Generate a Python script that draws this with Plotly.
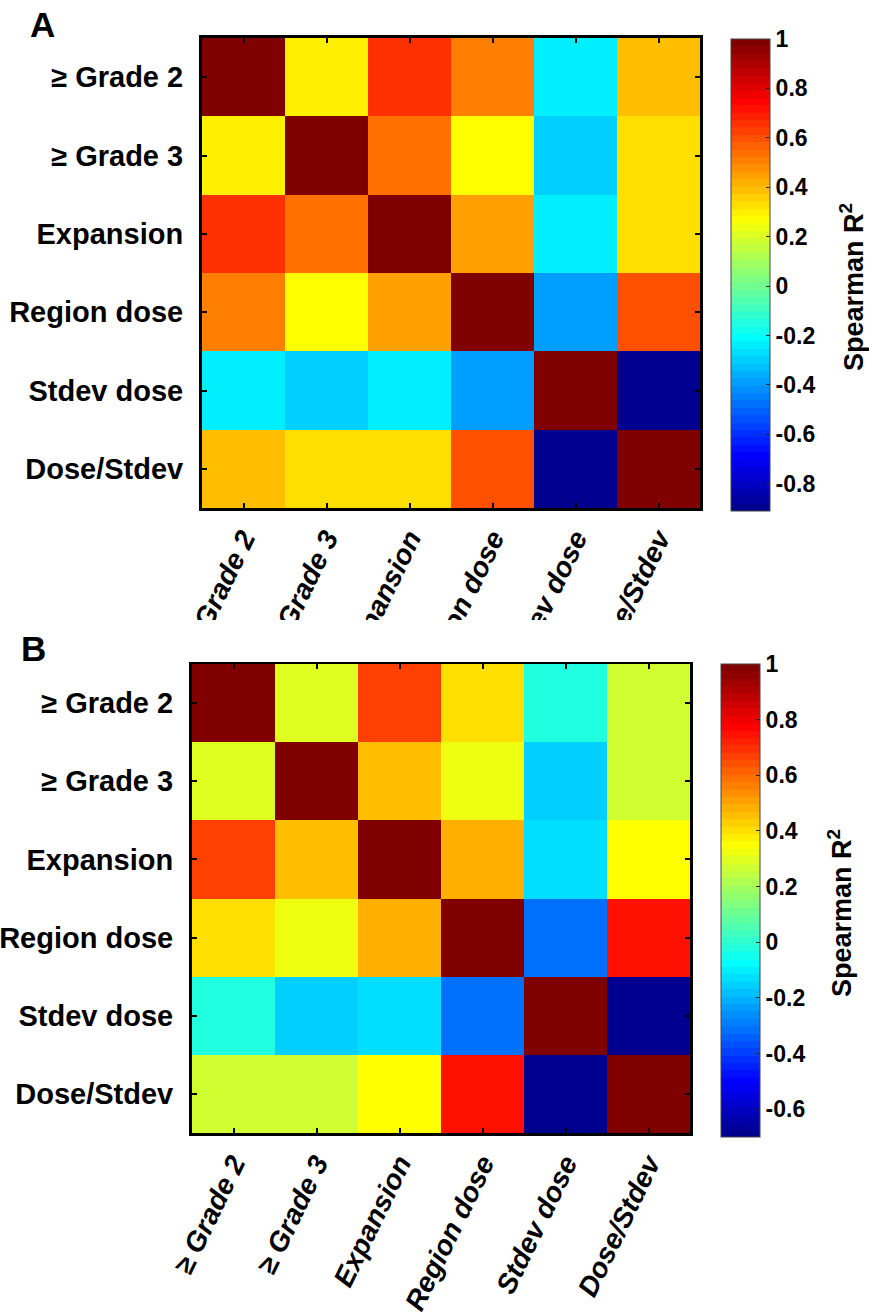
import numpy as np
import plotly.graph_objects as go

# Variables compared in both correlation matrices
labels = ["≥ Grade 2", "≥ Grade 3", "Expansion", "Region dose", "Stdev dose", "Dose/Stdev"]

# Panel A: Spearman correlation matrix
corr_a = [
    [1.00, 0.30, 0.66, 0.51, -0.24, 0.40],
    [0.30, 1.00, 0.54, 0.27, -0.30, 0.34],
    [0.66, 0.54, 1.00, 0.45, -0.24, 0.34],
    [0.51, 0.27, 0.45, 1.00, -0.39, 0.60],
    [-0.24, -0.30, -0.24, -0.39, 1.00, -0.91],
    [0.40, 0.34, 0.34, 0.60, -0.91, 1.00],
]

# Panel B: Spearman correlation matrix
corr_b = [
    [1.00, 0.30, 0.67, 0.40, -0.02, 0.27],
    [0.30, 1.00, 0.46, 0.32, -0.16, 0.27],
    [0.67, 0.46, 1.00, 0.48, -0.13, 0.35],
    [0.40, 0.32, 0.48, 1.00, -0.32, 0.75],
    [-0.02, -0.16, -0.13, -0.32, 1.00, -0.70],
    [0.27, 0.27, 0.35, 0.75, -0.70, 1.00],
]

cbar_ticks_a = [1, 0.8, 0.6, 0.4, 0.2, 0, -0.2, -0.4, -0.6, -0.8]
cbar_text_a = ["1", "0.8", "0.6", "0.4", "0.2", "0", "-0.2", "-0.4", "-0.6", "-0.8"]
cbar_ticks_b = [1, 0.8, 0.6, 0.4, 0.2, 0, -0.2, -0.4, -0.6]
cbar_text_b = ["1", "0.8", "0.6", "0.4", "0.2", "0", "-0.2", "-0.4", "-0.6"]

# 64-step "jet" colour map, drawn as discrete bands
def jet_scale(n=64):
    scale = []
    for i in range(1, n + 1):
        r = min(max(min(i - 24, 72 - i) / 16, 0), 1)
        g = min(max(min(i - 8, 56 - i) / 16, 0), 1)
        b = min(max(min(i + 8, 40 - i) / 16, 0), 1)
        col = f"rgb({round(r*255)},{round(g*255)},{round(b*255)})"
        scale.append([(i - 1) / n, col])
        scale.append([i / n, col])
    return scale

JET = jet_scale()
W, H = 869, 1314
FONT = "Liberation Sans, Arial, sans-serif"

def px_x(p):
    return p / W

def px_y(p):
    return 1 - p / H

fig = go.Figure()

panels = [
    # matrix, ticks, ticktext, plot box (l, t, r, b), colorbar box (l, t, r, b), axes suffix
    (corr_a, cbar_ticks_a, cbar_text_a, (202, 38, 700, 508), (731, 39, 770, 511), ""),
    (corr_b, cbar_ticks_b, cbar_text_b, (192, 664, 690, 1133), (721, 664, 760, 1137), "2"),
]

for z, ctv, ctt, box, cb, suf in panels:
    l, t, r, b = box
    zarr = np.array(z)
    fig.add_trace(go.Heatmap(
        z=z, x=list(range(6)), y=list(range(6)),
        xaxis="x" + suf, yaxis="y" + suf,
        colorscale=JET, zmin=float(zarr.min()), zmax=float(zarr.max()),
        xgap=0, ygap=0, hoverinfo="skip",
        colorbar=dict(
            x=px_x(cb[0]), xanchor="left", xpad=0, ypad=0,
            y=px_y((cb[1] + cb[3]) / 2), yanchor="middle",
            len=(cb[3] - cb[1]) / H, lenmode="fraction",
            thickness=cb[2] - cb[0], thicknessmode="pixels",
            outlinewidth=1, outlinecolor="#444",
            tickvals=ctv, ticktext=ctt,
            ticks="inside", ticklen=4, tickcolor="#222",
            tickfont=dict(family=FONT, size=23, color="black", weight="bold"),
        ),
    ))
    axis_common = dict(
        showline=True, linewidth=3, linecolor="black", mirror="ticks",
        ticks="inside", ticklen=5, tickwidth=2, tickcolor="black",
        showgrid=False, zeroline=False, tickvals=list(range(6)), ticktext=labels,
        automargin=False,
    )
    fig.update_layout(**{
        "xaxis" + suf: dict(
            axis_common, domain=[px_x(l), px_x(r)], range=[-0.5, 5.5],
            anchor="y" + suf, tickangle=-64,
            tickfont=dict(family=FONT, size=28, color="black", weight="bold", style="italic"),
        ),
        "yaxis" + suf: dict(
            axis_common, domain=[px_y(b), px_y(t)], range=[5.5, -0.5],
            anchor="x" + suf, ticklabelstandoff=10,
            tickfont=dict(family=FONT, size=29, color="black", weight="bold"),
        ),
    })

# Spearman colour-bar titles
for cx, cy in [(852, 287), (840, 913)]:
    fig.add_annotation(
        x=px_x(cx), y=px_y(cy), xref="paper", yref="paper",
        text="Spearman R<sup>2</sup>", textangle=-90, showarrow=False,
        font=dict(family=FONT, size=27, color="black", weight="bold"),
        xanchor="center", yanchor="middle",
    )

# Panel letters
for letter, lx, ly in [("A", 42, 24), ("B", 33, 648)]:
    fig.add_annotation(
        x=px_x(lx), y=px_y(ly), xref="paper", yref="paper",
        text=letter, showarrow=False,
        font=dict(family=FONT, size=35, color="black", weight="bold"),
        xanchor="center", yanchor="middle",
    )

# Panel A category labels run into panel B's space and are cut off there
fig.add_shape(
    type="rect", xref="paper", yref="paper", layer="above",
    x0=0, x1=1, y0=px_y(662), y1=px_y(620),
    fillcolor="white", line=dict(width=0),
)

fig.update_layout(
    width=W, height=H,
    margin=dict(l=0, r=0, t=0, b=0, autoexpand=False),
    paper_bgcolor="white", plot_bgcolor="white",
    showlegend=False,
)

fig.write_html("out.html")
